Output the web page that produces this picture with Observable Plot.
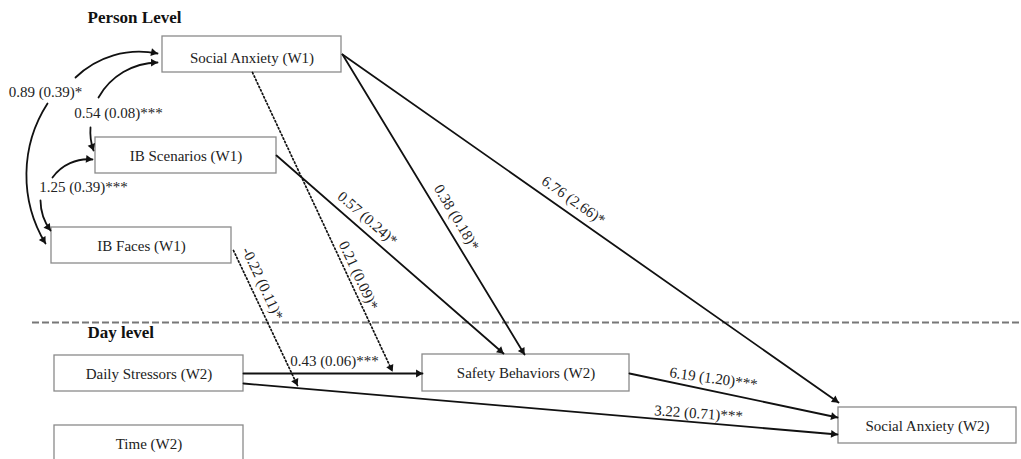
<!DOCTYPE html>
<html><head><meta charset="utf-8">
<script src="https://cdn.jsdelivr.net/npm/d3@7"></script>
<script src="https://cdn.jsdelivr.net/npm/@observablehq/plot@0.6"></script>
<style>body{margin:0;background:#fff;overflow:hidden}</style>
</head><body><div id="chart"></div>
<script>
// ---- content ----
const nodeLabels = ["Social Anxiety (W1)", "IB Scenarios (W1)", "IB Faces (W1)", "Daily Stressors (W2)", "Safety Behaviors (W2)", "Time (W2)", "Social Anxiety (W2)"];
const levelLabels = ["Person Level", "Day level"];
const pathLabels = ["0.89 (0.39)*", "0.54 (0.08)***", "1.25 (0.39)***", "0.43 (0.06)***", "6.19 (1.20)***", "3.22 (0.71)***", "6.76 (2.66)*", "0.38 (0.18)*", "0.57 (0.24)*", "0.21 (0.09)*", "-0.22 (0.11)*"];

// ---- layout (diagram coordinates) ----
const boxLayout = [[162,341,36,72],[95,276,137,173],[51,231,227,263],[54,243,355,391],[422,629,354,391],[54,243,425,475],[838,1016,407,443]];
const boxTextY = [58,156,246,374,373,444,426];
const levelLayout = [[87,17],[87,332]];
const labelLayout = [[45,92,0],[118,113,0],[83,187,0],[334,361,0],[713,378,8],[698,413,4],[573,200,35],[456,217,59],[367,218,41],[358,275,65],[262,283,65]];
// connectors: x1,y1,x2,y2,bend,dotted
const connLayout = [
  [342,54,524,354,0,0],
  [342,54,838,402,0,0],
  [276,155,503,353,0,0],
  [243,373,422,373,0,0],
  [629,373,837,417,0,0],
  [243,383,837,434,0,0],
  [252,72,392,371,0,1],
  [233,250,297,385,0,1],
  [75,77,157,53,28,0],
  [47,103,45,243,-32,0],
  [98,97,157,62,30,0],
  [90,127,93,150,-12,0],
  [52,177,92,159,30,0],
  [40,200,50,230,-18,0]
];

const boxes = nodeLabels.map((label,i)=>({label, x1:boxLayout[i][0], x2:boxLayout[i][1], y1:boxLayout[i][2], y2:boxLayout[i][3], ty:boxTextY[i]}));
const levels = levelLabels.map((label,i)=>({label, x:levelLayout[i][0], y:levelLayout[i][1]}));
const labels = pathLabels.map((label,i)=>({label, x:labelLayout[i][0], y:labelLayout[i][1], r:labelLayout[i][2]}));
const conns = connLayout.map(c=>({x1:c[0],y1:c[1],x2:c[2],y2:c[3],bend:c[4],dotted:c[5]}));
const heads = conns.map(c=>{
  const a = Math.atan2(c.y2-c.y1, c.x2-c.x1) + c.bend*Math.PI/180;
  const off = 4.2;
  return {x: c.x2 - Math.cos(a)*off, y: c.y2 - Math.sin(a)*off, rot: a*180/Math.PI + 90};
});

const font = "'Liberation Serif', 'Times New Roman', serif";
const ink = "#111";
const marks = [
  Plot.ruleY([322], {x1: 32, x2: 1021, stroke: "#777", strokeWidth: 2.2, strokeDasharray: "7,3"}),
  Plot.rect(boxes, {x1:"x1", x2:"x2", y1:"y1", y2:"y2", fill:"white", stroke:"#8a8a8a", strokeWidth:1.3})
];
for (const c of conns) {
  marks.push(Plot.arrow([c], {x1:"x1", y1:"y1", x2:"x2", y2:"y2", bend: c.bend, headLength: 0, stroke: ink, strokeWidth: c.dotted ? 1.7 : 1.8, strokeDasharray: c.dotted ? "1.4,2.4" : null}));
}
marks.push(
  Plot.dot(heads, {x:"x", y:"y", rotate:"rot", symbol:"triangle", r:2.9, fill: ink, stroke:"none"}),
  Plot.text(boxes, {x: d=>(d.x1+d.x2)/2, y:"ty", text:"label", fontSize:15, fontFamily:font, fill:"#222", lineAnchor:"middle"}),
  Plot.text(levels, {x:"x", y:"y", text:"label", fontSize:17, fontWeight:"bold", fontFamily:font, fill:"#111", textAnchor:"start", lineAnchor:"middle"}),
  Plot.text(labels, {x:"x", y:"y", rotate:"r", text:"label", fontSize:15, fontFamily:font, fill:"#222", lineAnchor:"middle"})
);

const chart = Plot.plot({
  width: 1021, height: 459, margin: 0,
  x: {domain:[0,1021], range:[0,1021], axis:null},
  y: {domain:[0,459], range:[0,459], axis:null},
  style: {background:"white"},
  marks
});
document.getElementById("chart").appendChild(chart);
</script>
</body></html>
